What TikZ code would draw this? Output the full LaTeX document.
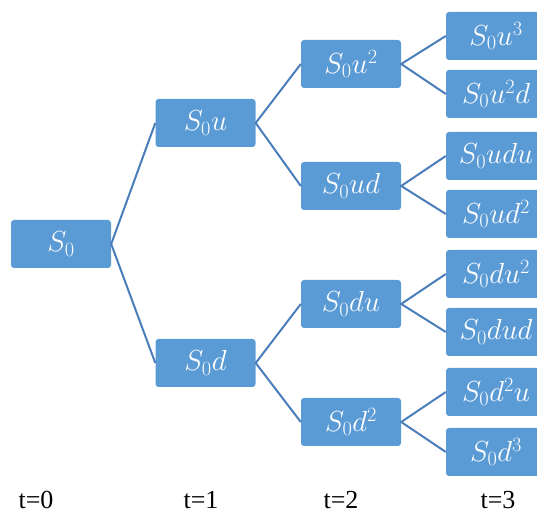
\RequirePackage{fix-cm}
\documentclass[tikz,border=0pt]{standalone}
\usepackage{fontspec}
\newfontfamily\timesfont{Liberation Serif}
\definecolor{boxblue}{HTML}{5B9BD5}
\definecolor{lineblue}{HTML}{4A7EBB}
\begin{document}
\begin{tikzpicture}[x=1pt,y=1pt,
  tbox/.style={draw=none,fill=boxblue,rounded corners=3pt,minimum width=100pt,minimum height=48pt,inner sep=0pt,text=white,font=\fontsize{29}{33}\selectfont},
  conn/.style={draw=lineblue,line width=2pt},
  tlab/.style={font=\timesfont\fontsize{26}{28}\selectfont,inner sep=0pt,anchor=base}]
\useasboundingbox (0,0) rectangle (537,513);
\node[tbox] (s0) at (61,269) {$S_0$};
\node[tbox] (u) at (205.5,390) {$S_0u$};
\node[tbox] (d) at (205.5,150) {$S_0d$};
\node[tbox] (uu) at (351,449) {$S_0u^2$};
\node[tbox] (ud) at (351,327) {$S_0ud$};
\node[tbox] (du) at (351,209) {$S_0du$};
\node[tbox] (dd) at (351,91) {$S_0d^2$};
\node[tbox] (uuu) at (496,477) {$S_0u^3$};
\node[tbox] (uud) at (496,419) {$S_0u^2d$};
\node[tbox] (udu) at (496,357) {$S_0udu$};
\node[tbox] (udd) at (496,299) {$S_0ud^2$};
\node[tbox] (duu) at (496,239) {$S_0du^2$};
\node[tbox] (dud) at (496,181) {$S_0dud$};
\node[tbox] (ddu) at (496,121) {$S_0d^2u$};
\node[tbox] (ddd) at (496,61) {$S_0d^3$};
\draw[conn] (u.west) -- (s0.east) -- (d.west);
\draw[conn] (uu.west) -- (u.east) -- (ud.west);
\draw[conn] (du.west) -- (d.east) -- (dd.west);
\draw[conn] (uuu.west) -- (uu.east) -- (uud.west);
\draw[conn] (udu.west) -- (ud.east) -- (udd.west);
\draw[conn] (duu.west) -- (du.east) -- (dud.west);
\draw[conn] (ddu.west) -- (dd.east) -- (ddd.west);
\node[tlab] (t0) at (36,5) {t=0};
\node[tlab] (t1) at (201,5) {t=1};
\node[tlab] (t2) at (341,5) {t=2};
\node[tlab] (t3) at (498,5) {t=3};
\end{tikzpicture}
\end{document}
